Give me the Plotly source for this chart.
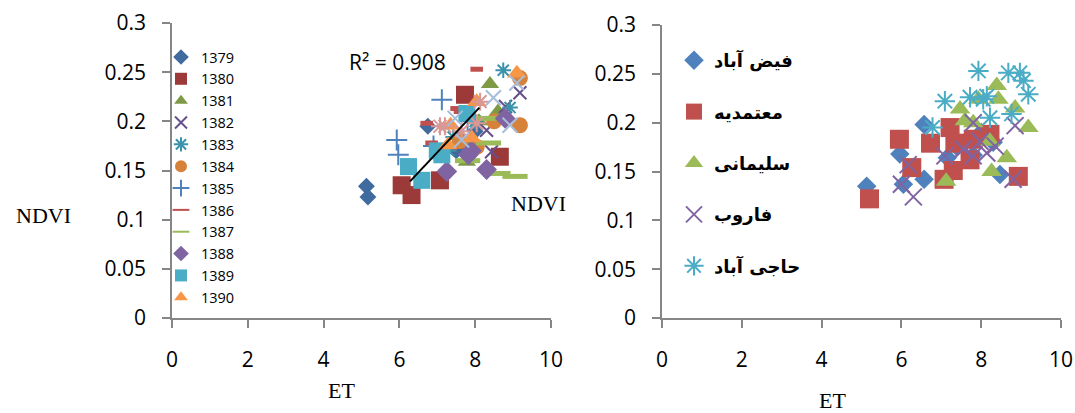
import plotly.graph_objects as go

W, H = 1075, 413

# ---------------- Left chart: ET vs NDVI by year ----------------
years = ["1379", "1380", "1381", "1382", "1383", "1384",
         "1385", "1386", "1387", "1388", "1389", "1390"]

et_1379 = [5.13, 5.17, 6.75, 7.50, 8.00]
nd_1379 = [0.134, 0.123, 0.195, 0.170, 0.190]
et_1380 = [6.06, 6.32, 7.07, 7.73, 8.65]
nd_1380 = [0.135, 0.125, 0.140, 0.227, 0.164]
et_1381 = [8.39, 7.78, 7.95, 8.10, 8.60]
nd_1381 = [0.238, 0.159, 0.180, 0.200, 0.210]
et_1382 = [9.18, 8.30, 8.43, 7.60, 8.80]
nd_1382 = [0.229, 0.191, 0.169, 0.175, 0.215]
et_1383 = [8.74, 8.92, 7.42, 7.30, 8.00]
nd_1383 = [0.252, 0.214, 0.184, 0.170, 0.200]
et_1384 = [9.18, 9.18, 8.04, 7.60, 8.50]
nd_1384 = [0.244, 0.196, 0.174, 0.180, 0.200]
et_1385 = [7.12, 5.93, 5.97, 7.80, 6.90]
nd_1385 = [0.222, 0.181, 0.166, 0.200, 0.175]
et_1386 = [8.04, 6.72, 6.85, 7.51, 7.60]
nd_1386 = [0.253, 0.198, 0.178, 0.213, 0.210]
et_1387 = [8.35, 8.35, 8.60, 9.05, 7.80]
nd_1387 = [0.203, 0.178, 0.147, 0.144, 0.160]
et_1388 = [7.82, 8.30, 7.25, 8.79, 7.90]
nd_1388 = [0.166, 0.151, 0.149, 0.203, 0.170]
et_1389 = [6.24, 6.59, 7.12, 7.78, 7.00]
nd_1389 = [0.154, 0.140, 0.166, 0.208, 0.170]
et_1390 = [9.10, 8.04, 7.91, 7.28, 7.35]
nd_1390 = [0.249, 0.220, 0.183, 0.176, 0.196]

# additional unlabeled series visible in the cluster
et_extra_a = [7.07, 8.13, 8.04, 7.20, 7.64]
nd_extra_a = [0.195, 0.220, 0.198, 0.195, 0.190]
et_extra_b = [9.10, 8.48, 8.92, 7.47, 7.64]
nd_extra_b = [0.239, 0.224, 0.196, 0.203, 0.181]

trend_et = [6.28, 8.11]
trend_nd = [0.139, 0.214]
r2_label = "R² = 0.908"

left_et = [et_1379, et_1380, et_1381, et_1382, et_1383, et_1384,
           et_1385, et_1386, et_1387, et_1388, et_1389, et_1390]
left_nd = [nd_1379, nd_1380, nd_1381, nd_1382, nd_1383, nd_1384,
           nd_1385, nd_1386, nd_1387, nd_1388, nd_1389, nd_1390]

left_style = [
    ("diamond", "#3F6B9E", 13),
    ("square", "#9B3A38", 18),
    ("triangle-up", "#7E9A45", 16),
    ("x-thin-open", "#66508A", 13),
    ("asterisk-open", "#3A93AB", 13),
    ("circle", "#D6823A", 16),
    ("cross-thin-open", "#4F81BD", 15),
    ("line-ew-open", "#C0504D", 9),
    ("line-ew-open", "#9BBB59", 18),
    ("diamond", "#8064A2", 16),
    ("square", "#4BACC6", 17),
    ("triangle-up", "#F79646", 17),
]

# ---------------- Right chart: ET vs NDVI by station ----------------
stations = ["فیض آباد", "معتمدیه", "سلیمانی", "فاروب", "حاجی آباد"]

et_feyzabad = [5.13, 5.96, 6.05, 6.57, 6.57, 7.15, 7.40, 7.80, 8.00, 8.47, 8.30, 7.60]
nd_feyzabad = [0.135, 0.168, 0.137, 0.198, 0.142, 0.164, 0.175, 0.167, 0.190, 0.147, 0.180, 0.180]
et_motamedieh = [5.20, 5.95, 6.26, 6.73, 7.07, 7.22, 7.30, 7.34, 7.72, 8.22, 8.93, 7.80]
nd_motamedieh = [0.122, 0.183, 0.154, 0.179, 0.142, 0.195, 0.151, 0.179, 0.162, 0.188, 0.145, 0.183]
et_soleimani = [7.12, 7.47, 7.80, 7.93, 8.39, 8.43, 8.22, 8.64, 8.26, 8.85, 9.18, 7.59]
nd_soleimani = [0.140, 0.214, 0.200, 0.224, 0.238, 0.224, 0.181, 0.164, 0.150, 0.215, 0.195, 0.202]
et_farub = [6.00, 6.30, 6.17, 7.09, 7.80, 7.55, 7.80, 7.97, 8.35, 8.80, 8.85, 8.14]
nd_farub = [0.137, 0.124, 0.157, 0.166, 0.200, 0.173, 0.166, 0.181, 0.176, 0.142, 0.197, 0.169]
et_hajiabad = [6.78, 7.09, 7.72, 7.93, 8.05, 8.22, 8.68, 8.97, 9.06, 9.18, 8.76, 8.14]
nd_hajiabad = [0.195, 0.222, 0.226, 0.253, 0.224, 0.205, 0.251, 0.251, 0.243, 0.229, 0.209, 0.227]

right_et = [et_feyzabad, et_motamedieh, et_soleimani, et_farub, et_hajiabad]
right_nd = [nd_feyzabad, nd_motamedieh, nd_soleimani, nd_farub, nd_hajiabad]
right_style = [
    ("diamond", "#4F81BD", 15),
    ("square", "#C0504D", 19),
    ("triangle-up", "#9BBB59", 18),
    ("x-thin-open", "#8064A2", 17),
    ("asterisk-open", "#4BACC6", 17),
]

fig = go.Figure()

def add_pts(x, y, name, sym, col, size, xa, ya, legend, showlegend=True, group=None):
    if sym.startswith("line-ew"):
        lw = 5
    elif sym.endswith("-open"):
        lw = 2
    else:
        lw = 0
    fig.add_trace(go.Scatter(
        x=x, y=y, mode="markers", name=name,
        xaxis=xa, yaxis=ya, legend=legend, showlegend=showlegend,
        legendgroup=group,
        marker=dict(symbol=sym, size=size, color=col,
                    line=dict(width=lw, color=col)),
        hoverinfo="skip",
    ))

for i, yr in enumerate(years):
    sym, col, sz = left_style[i]
    add_pts(left_et[i], left_nd[i], yr, sym, col, sz, "x", "y", "legend")
add_pts(et_extra_a, nd_extra_a, "a", "asterisk-open", "#D99795", 15, "x", "y", "legend", False)
add_pts(et_extra_b, nd_extra_b, "b", "x-thin-open", "#A6BDDB", 15, "x", "y", "legend", False)

fig.add_trace(go.Scatter(x=trend_et, y=trend_nd, mode="lines", xaxis="x", yaxis="y",
                         line=dict(color="black", width=2), showlegend=False,
                         hoverinfo="skip"))

for i, st in enumerate(stations):
    sym, col, sz = right_style[i]
    add_pts(right_et[i], right_nd[i], st, sym, col, sz, "x2", "y2", "legend2", group=st)

axis_col = "#868686"
tickfont = dict(family="Open Sans", size=21, color="black")
common_x = dict(range=[0, 10], dtick=2, tick0=0, showline=True, linecolor=axis_col,
                linewidth=1.5, ticks="outside", ticklen=8, tickcolor=axis_col,
                tickwidth=1.5, showgrid=False, zeroline=False, tickfont=tickfont,
                ticklabelstandoff=14, fixedrange=True, automargin=False)
common_y = dict(range=[0, 0.3], dtick=0.05, tick0=0, showline=True, linecolor=axis_col,
                linewidth=1.5, ticks="outside", ticklen=8, tickcolor=axis_col,
                tickwidth=1.5, showgrid=False, zeroline=False, tickfont=tickfont,
                ticklabelstandoff=12, fixedrange=True, automargin=False)

def px_x(p):
    return p / W

def px_y(p):
    return 1 - p / H

def label(text, x, y, family, size):
    return dict(text=text, x=px_x(x), y=px_y(y), xref="paper", yref="paper",
                xanchor="center", yanchor="middle", showarrow=False,
                font=dict(family=family, size=size, color="black"))

fig.update_layout(
    template="none",
    width=W, height=H,
    margin=dict(l=0, r=0, t=0, b=0),
    paper_bgcolor="white", plot_bgcolor="white",
    xaxis=dict(domain=[px_x(172), px_x(551)], anchor="y", **common_x),
    yaxis=dict(domain=[px_y(318), px_y(23)], anchor="x", **common_y),
    xaxis2=dict(domain=[px_x(662), px_x(1061)], anchor="y2", **common_x),
    yaxis2=dict(domain=[px_y(318), px_y(25)], anchor="x2", **common_y),
    legend=dict(x=px_x(161), y=px_y(41), xanchor="left", yanchor="top",
                font=dict(family="Open Sans", size=14.5, color="black"),
                bgcolor="rgba(0,0,0,0)", itemsizing="constant"),
    legend2=dict(x=px_x(674), y=px_y(42), xanchor="left", yanchor="top",
                 font=dict(family="DejaVu Sans", size=18, color="black", weight="bold"),
                 bgcolor="rgba(0,0,0,0)", tracegroupgap=25, itemsizing="trace"),
    annotations=[
        label(r2_label, 397, 62, "Open Sans", 21),
        label("NDVI", 43, 215, "Liberation Serif", 22),
        label("NDVI", 538, 203, "Liberation Serif", 22),
        label("ET", 341, 390, "Liberation Serif", 22),
        label("ET", 832, 400, "Liberation Serif", 22),
    ],
)

fig.write_html("out.html", config={"displayModeBar": False},
               post_script="document.body.style.margin='0';document.body.style.overflow='hidden';")
